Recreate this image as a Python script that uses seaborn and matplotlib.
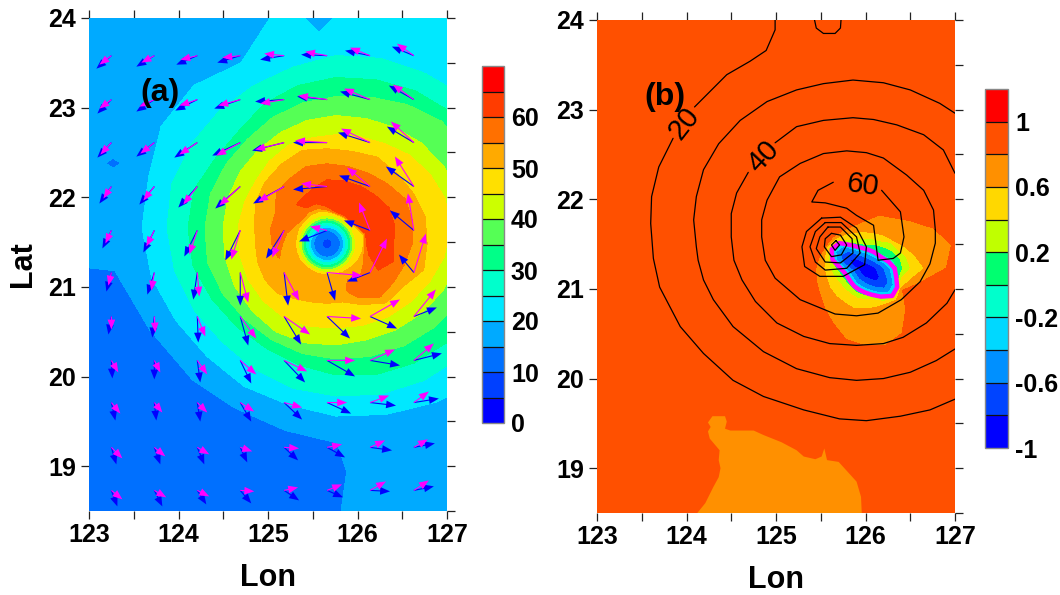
import numpy as np
import matplotlib
matplotlib.use('Agg')
import matplotlib.pyplot as plt
from matplotlib.cm import ScalarMappable
from matplotlib.colors import BoundaryNorm, ListedColormap
from matplotlib.ticker import MultipleLocator
import seaborn as sns

# colour bars
levels_a = np.arange(0, 75, 5)
colors_a = ['#0000ff', '#0040ff', '#0070ff', '#00aaff', '#00e8ff', '#00ffcc', '#00ff88',
            '#55ff55', '#ccff00', '#ffe000', '#ffaa00', '#ff7000', '#ff3c00', '#ff0000']
ticks_a = [0, 10, 20, 30, 40, 50, 60]
levels_b = np.round(np.arange(-1, 1.3, 0.2), 1)
colors_b = ['#0000ff', '#0044ff', '#0090ff', '#00d8ff', '#00ffcc', '#00ff70',
            '#c0ff00', '#ffd800', '#ff9000', '#ff5000', '#ff0000']
ticks_b = [-1, -0.6, -0.2, 0.2, 0.6, 1]
tick_names_b = ['-1', '-0.6', '-0.2', '0.2', '0.6', '1']

bearings = np.arange(0, 375, 15)

# (a) isotach radius per bearing, 1/89.5 deg, around 125.76E 21.66N
outer_center = (125.76, 21.66)
r45 = [114, 113, 108, 103, 97, 94, 93, 93, 95, 94, 93, 95, 98, 100, 102, 103, 104, 102, 100, 101, 103, 105, 108, 112]
r40 = [128, 127, 124, 120, 116, 113, 112, 111, 110, 110, 111, 112, 113, 115, 117, 118, 120, 119, 117, 116, 118, 121, 124, 127]
r35 = [150, 150, 150, 150, 142, 135, 131, 129, 127, 125, 127, 130, 131, 133, 131, 129, 129, 130, 131, 133, 136, 140, 145, 150]
r30 = [165, 165, 165, 163, 158, 153, 150, 147, 143, 137, 139, 147, 148, 148, 143, 140, 139, 142, 147, 152, 156, 160, 163, 165]
r25 = [190, 190, 188, 184, 178, 175, 172, 166, 164, 165, 167, 170, 169, 167, 164, 161, 163, 166, 168, 172, 176, 180, 184, 188]
r20 = [240, 240, 240, 245, 245, 245, 245, 228, 190, 201, 202, 194, 194, 191, 185, 182, 183, 183, 188, 193, 201, 212, 225, 235]
# 15 m/s line, same columns
lon15 = [130.72, 130.50, 129.83, 128.93, 128.04, 126.92, 125.76, 124.58, 123.35, 122.23, 121.89, 121.67,
         121.67, 123.29, 123.68, 124.16, 124.63, 125.19, 125.77, 125.88, 125.77, 127.59, 128.93, 130.05]
lat15 = [21.66, 22.86, 23.98, 24.87, 25.54, 26.10, 26.21, 26.10, 25.87, 25.20, 23.87, 22.53,
         21.36, 21.18, 20.52, 19.96, 19.65, 19.40, 19.26, 18.94, 18.18, 16.39, 17.28, 19.52]

# (a) eyewall, 1/268.5 deg around 125.66E 21.48N
eye_center = (125.66, 21.48)
eye_values = [7, 10, 15, 20, 25, 30, 35, 40, 45]
eye_radii = [0, 15, 40, 50, 57, 65, 72, 78, 86]
r50_in = [110, 112, 100, 95, 93, 93, 97, 100, 100, 97, 97, 95, 95, 95, 95, 93, 93, 93, 93, 95, 97, 100, 105, 108]
r55_in = [112, 115, 103, 98, 96, 96, 102, 110, 110, 105, 110, 125, 130, 135, 120, 120, 120, 120, 120, 125, 125, 140, 125, 115]
r60_in = [118, 120, 105, 100, 100, 100, 112, 125, 125, 130, 135, 140, 140, 145, 140, 140, 140, 140, 140, 140, 140, 160, 135, 130]
r_peak = [160, 165, 160, 150, 150, 148, 150, 150, 140, 160, 150, 150, 150, 150, 155, 155, 155, 155, 150, 150, 150, 180, 175, 165]
r60_out = [200, 210, 215, 205, 200, 195, 192, 170, 155, 180, 165, 160, 160, 155, 170, 170, 165, 165, 160, 160, 165, 200, 205, 205]
r55_out = [255, 265, 270, 255, 245, 240, 240, 240, 225, 215, 180, 175, 170, 165, 190, 190, 175, 170, 165, 165, 185, 225, 230, 240]
r50_out = [300, 305, 300, 297, 300, 287, 285, 290, 275, 262, 248, 225, 215, 215, 215, 210, 190, 180, 178, 180, 210, 250, 260, 300]
peak_wind = [63, 63, 63, 63, 63, 63, 63, 62, 61, 59, 57.5, 56, 55.5, 55.2, 53, 53, 53, 53, 53, 54, 56, 58, 59.5, 62]
# (lon, lat) of the two small low spots in (a): centre, half width, half height, low, high
spots = [(123.27, 22.38, 0.17, 0.11, 14, 16), (125.57, 24.0, 0.31, 0.33, 19, 21)]

# (a) arrows
arrow_lon = [123.25, 123.73, 124.21, 124.69, 125.18, 125.66, 126.14, 126.63]
arrow_lat = [23.58, 23.09, 22.61, 22.12, 21.63, 21.16, 20.67, 20.18, 19.71, 19.21, 18.73]
blue_u = [[-15, -18, -21, -23, -24, -26, -25, -22],
          [-14, -18, -22, -26, -29, -30, -30, -25],
          [-14, -18, -23, -28, -32, -34, -32, -27],
          [-12, -15, -19, -25, -31, -34, -31, -28],
          [-9, -11, -13, -15, -18, -28, -26, -24],
          [-5, -7, -4, 0, 4, 8, -23, -15],
          [-3, -2, 1, 8, 17, 23, 27, 23],
          [1, 0, 3, 11, 21, 28, 30, 28],
          [4, 2, 3, 11, 18, 24, 26, 25],
          [5, 6, 7, 7, 14, 18, 22, 21],
          [6, 8, 9, 11, 15, 16, 20, 20]]
blue_v = [[-13, -11, -9, -7, -4, 1, 5, 9],
          [-14, -12, -11, -9, -2, 3, 8, 14],
          [-15, -14, -15, -13, -8, 0, 10, 16],
          [-17, -18, -21, -22, -17, -3, 11, 20],
          [-18, -22, -26, -30, -28, -11, 10, 20],
          [-19, -22, -27, -33, -33, -28, -9, 18],
          [-18, -21, -26, -29, -28, -22, -12, 9],
          [-18, -19, -22, -23, -22, -16, -5, 7],
          [-18, -18, -19, -19, -17, -11, -3, 4],
          [-17, -17, -17, -15, -13, -10, -3, 4],
          [-16, -16, -14, -13, -10, -7, -1, 4]]
pink_u = [[-12, -13, -17, -18, -20, -22, -20, -17],
          [-12, -15, -18, -22, -24, -29, -26, -21],
          [-11, -14, -18, -24, -29, -32, -29, -23],
          [-8, -11, -14, -21, -26, -26, -23, -19],
          [-6, -8, -8, -9, -12, -17, -11, -6],
          [-3, -3, 2, 8, 15, 35, 17, 12],
          [0, 1, 8, 16, 26, 34, 30, 22],
          [7, 6, 10, 16, 23, 28, 25, 20],
          [9, 8, 10, 14, 18, 20, 19, 15],
          [11, 11, 12, 12, 15, 15, 15, 14],
          [11, 12, 12, 14, 14, 15, 16, 15]]
pink_v = [[-9, -7, -4, -2, 2, 4, 8, 12],
          [-9, -7, -6, -6, -4, 4, 11, 15],
          [-12, -11, -12, -13, -7, 2, 14, 21],
          [-12, -14, -18, -19, -15, 3, 19, 30],
          [-13, -16, -24, -29, -27, 4, 28, 37],
          [-13, -18, -24, -30, -28, -3, 34, 39],
          [-13, -16, -20, -22, -18, -2, 17, 27],
          [-12, -12, -14, -14, -11, 0, 11, 17],
          [-11, -10, -10, -9, -5, 0, 7, 11],
          [-11, -9, -7, -4, -1, 3, 7, 8],
          [-9, -7, -6, -1, 3, 6, 9, 10]]

# (b) anomaly field, radius per bearing, 1/268.5 deg around 125.99E 21.23N
blob_center = (125.99, 21.23)
blob_values = [-0.9, -0.8, -0.6, -0.4, -0.2, 0, 0.2, 0.4, 0.6, 0.8, 0.9]
rb_m08 = [34, 26, 20, 18, 17, 17, 18, 21, 28, 42, 50, 38, 24, 18, 17, 18, 20, 22, 26, 30, 40, 52, 52, 40]
rb_m06 = [58, 46, 37, 33, 32, 32, 34, 39, 50, 72, 82, 68, 44, 34, 32, 33, 36, 39, 44, 52, 66, 84, 82, 66]
rb_m04 = [76, 62, 50, 46, 44, 44, 47, 53, 67, 92, 100, 86, 60, 48, 45, 46, 50, 54, 60, 69, 84, 102, 99, 84]
rb_m02 = [90, 75, 62, 57, 56, 56, 59, 65, 80, 107, 114, 100, 72, 60, 57, 58, 62, 66, 72, 82, 98, 117, 113, 98]
rb_p00 = [98, 90, 75, 65, 62, 60, 63, 69, 84, 109, 116, 102, 76, 64, 61, 62, 66, 70, 76, 85, 101, 119, 115, 101]
rb_p02 = [115, 110, 100, 88, 80, 75, 72, 78, 90, 112, 118, 105, 88, 75, 70, 70, 73, 78, 82, 90, 106, 122, 117, 107]
rb_p04 = [138, 130, 115, 110, 95, 92, 90, 92, 100, 117, 122, 112, 105, 95, 88, 86, 88, 92, 94, 98, 115, 125, 120, 115]
rb_p06 = [180, 155, 135, 120, 115, 110, 110, 112, 118, 125, 130, 125, 122, 118, 120, 120, 120, 125, 122, 122, 125, 135, 125, 140]
rb_p08 = [245, 270, 240, 200, 175, 165, 142, 132, 131, 134, 135, 140, 147, 150, 155, 170, 190, 220, 232, 240, 225, 175, 132, 171]

south_lon = [124.08, 124.21, 124.30, 124.36, 124.38, 124.36, 124.37, 124.26, 124.24, 124.27, 124.24, 124.29, 124.43, 124.45, 124.43,
             124.49, 124.75, 124.86, 125.06, 125.23, 125.31, 125.44, 125.51, 125.54, 125.57, 125.70, 125.90, 125.95, 125.96]
south_lat = [18.45, 18.61, 18.79, 18.90, 19.00, 19.09, 19.20, 19.33, 19.41, 19.46, 19.51, 19.58, 19.58, 19.52, 19.44,
             19.42, 19.42, 19.37, 19.29, 19.20, 19.13, 19.10, 19.13, 19.22, 19.09, 19.07, 18.85, 18.68, 18.45]

# (b) wind speed contours
line20a_lon = [124.99, 124.99, 124.89, 124.71, 124.45, 124.09]
line20a_lat = [24.05, 23.89, 23.66, 23.54, 23.39, 23.03]
line20b_lon = [123.85, 123.69, 123.61, 123.60, 123.63, 123.70, 123.93, 124.19, 124.52, 124.86, 125.31, 125.71, 126.01, 126.39, 126.72, 127.0]
line20b_lat = [22.68, 22.36, 22.03, 21.73, 21.34, 21.02, 20.58, 20.28, 19.98, 19.80, 19.65, 19.55, 19.53, 19.58, 19.65, 19.77]
line20c_lon = [125.42, 125.45, 125.53, 125.66, 125.72, 125.73]
line20c_lat = [24.05, 23.91, 23.85, 23.85, 23.91, 24.05]
line30_lon = [127.0, 126.83, 126.50, 126.20, 125.86, 125.53, 125.23, 124.90, 124.60, 124.36, 124.19, 124.11, 124.08, 124.11, 124.13,
              124.19, 124.30, 124.52, 124.86, 125.23, 125.60, 125.90, 126.20, 126.50, 126.79, 127.0]
line30_lat = [22.96, 23.07, 23.22, 23.30, 23.33, 23.29, 23.22, 23.09, 22.88, 22.62, 22.33, 22.03, 21.77, 21.47, 21.32,
              21.10, 20.88, 20.58, 20.30, 20.11, 20.01, 19.98, 20.00, 20.07, 20.20, 20.33]
line40a_lon = [127.0, 126.87, 126.65, 126.35, 126.09, 125.86, 125.53, 125.23, 124.99]
line40a_lat = [22.29, 22.55, 22.72, 22.83, 22.89, 22.91, 22.88, 22.81, 22.63]
line40b_lon = [124.69, 124.56, 124.50, 124.50, 124.53, 124.62, 124.77, 125.01, 125.31, 125.60, 125.90, 126.20, 126.42, 126.68, 126.91, 127.0]
line40b_lat = [22.30, 22.07, 21.84, 21.58, 21.32, 21.10, 20.86, 20.62, 20.47, 20.39, 20.37, 20.39, 20.46, 20.62, 20.84, 20.99]
line50_lon = [126.78, 126.76, 126.65, 126.46, 126.20, 126.01, 125.79, 125.53, 125.27, 125.04, 124.90, 124.84, 124.84, 124.88,
              124.99, 125.27, 125.66, 125.90, 126.14, 126.40, 126.61, 126.72, 126.78, 126.78]
line50_lat = [21.66, 21.88, 22.10, 22.27, 22.46, 22.52, 22.54, 22.51, 22.40, 22.25, 21.99, 21.77, 21.58, 21.32,
              21.12, 20.88, 20.72, 20.70, 20.73, 20.88, 21.08, 21.28, 21.51, 21.66]
line60_lon = [125.64, 125.47, 125.40, 125.55, 125.79, 125.90, 126.09, 126.14, 126.31, 126.39, 126.43, 126.39, 126.18]
line60_lat = [22.19, 22.10, 21.97, 21.96, 21.90, 21.82, 21.71, 21.32, 21.34, 21.40, 21.58, 21.86, 22.10]
eye1_lon = [125.51, 125.72, 125.90, 126.01, 125.99, 125.75, 125.49, 125.32, 125.29, 125.34, 125.51]
eye1_lat = [21.79, 21.80, 21.68, 21.47, 21.27, 21.14, 21.14, 21.25, 21.47, 21.64, 21.79]
eye2_lon = [125.55, 125.73, 125.90, 125.94, 125.79, 125.55, 125.44, 125.38, 125.44, 125.55]
eye2_lat = [21.74, 21.74, 21.58, 21.40, 21.23, 21.21, 21.30, 21.47, 21.64, 21.74]
eye3_lon = [125.58, 125.72, 125.85, 125.86, 125.72, 125.55, 125.45, 125.49, 125.58]
eye3_lat = [21.69, 21.69, 21.56, 21.40, 21.29, 21.30, 21.45, 21.58, 21.69]
eye4_lon = [125.62, 125.72, 125.79, 125.73, 125.62, 125.54, 125.55, 125.62]
eye4_lat = [21.62, 21.60, 21.49, 21.38, 21.36, 21.47, 21.56, 21.62]
eye5_lon = [125.67, 125.71, 125.66, 125.62, 125.67]
eye5_lat = [21.54, 21.49, 21.43, 21.49, 21.54]


def close(a):
    a = np.asarray(a, dtype=float)
    return np.concatenate([a, a[..., :1]], axis=-1)


def ring_mesh(center, radii):
    rad = np.deg2rad(bearings)
    r = close(radii)
    return center[0] + r * np.cos(rad), center[1] + r * np.sin(rad)


sns.set_theme(style='ticks')
plt.rcParams['font.family'] = ['Liberation Sans', 'DejaVu Sans']
plt.rcParams['font.weight'] = 'bold'

cmap_a = ListedColormap(sns.color_palette(colors_a))
cmap_b = ListedColormap(sns.color_palette(colors_b))
norm_a = BoundaryNorm(levels_a, cmap_a.N)
norm_b = BoundaryNorm(levels_b, cmap_b.N)

W, H = 1060, 595
fig = plt.figure(figsize=(W / 100, H / 100), dpi=100)
ax1 = fig.add_axes([89 / W, 1 - 511 / H, 358 / W, 493 / H])
ax2 = fig.add_axes([597 / W, 1 - 513 / H, 358 / W, 493 / H])

# panel a, outer isotachs
n = len(r45)
outer_rows = [np.zeros(n), r45, r40, r35, r30, r25, r20]
outer_x, outer_y = ring_mesh(outer_center, np.array(outer_rows, dtype=float) / 89.5)
x_far, y_far = ring_mesh(outer_center, np.full((1, n), 9.0))
X = np.vstack([outer_x, close(lon15), x_far])
Y = np.vstack([outer_y, close(lat15), y_far])
outer_z = [47, 45, 40, 35, 30, 25, 20, 15, 14]
Z = np.repeat(np.array(outer_z, dtype=float)[:, None], n + 1, axis=1)
ax1.contourf(X, Y, Z, levels=levels_a, cmap=cmap_a, norm=norm_a, zorder=1)

for lon0, lat0, dx, dy, low, high in spots:
    spot_z = np.full((3, 3), float(high))
    spot_z[1, 1] = low
    ax1.contourf([lon0 - dx, lon0, lon0 + dx], [lat0 - dy, lat0, lat0 + dy], spot_z,
                 levels=levels_a, cmap=cmap_a, norm=norm_a, zorder=1)

# panel a, eye and eyewall
peak = np.array(peak_wind)
inner_rows = [np.full(n, float(r)) for r in eye_radii] + [r50_in, r55_in, r60_in, r_peak, r60_out, r55_out, r50_out]
inner_z = [np.full(n, float(v)) for v in eye_values] + [
    np.full(n, 50.0), np.minimum(55, peak - 0.6), np.minimum(60, peak - 0.3), peak,
    np.minimum(60, peak - 0.3), np.minimum(55, peak - 0.6), np.full(n, 50.0)]
Xi, Yi = ring_mesh(eye_center, np.array(inner_rows, dtype=float) / 268.5)
ax1.contourf(Xi, Yi, close(np.array(inner_z)), levels=levels_a, cmap=cmap_a, norm=norm_a, zorder=1.1)

lon_grid, lat_grid = np.meshgrid(arrow_lon, arrow_lat)
arrow_style = dict(angles='xy', scale_units='xy', scale=89.5, units='dots', width=1.1,
                   headwidth=7, headlength=9, headaxislength=9, minshaft=0.5, minlength=0)
ax1.quiver(lon_grid, lat_grid, blue_u, blue_v, color='#0000ff', zorder=3, **arrow_style)
ax1.quiver(lon_grid, lat_grid, pink_u, pink_v, color='#ff00ff', zorder=3.1, **arrow_style)
ax1.text(123.79, 23.16, '(a)', fontsize=23, ha='center', va='center', color='black', zorder=4)

# panel b, anomaly field
blob_rows = [np.zeros(n), rb_m08, rb_m06, rb_m04, rb_m02, rb_p00, rb_p02, rb_p04, rb_p06, rb_p08]
bx, by = ring_mesh(blob_center, np.array(blob_rows, dtype=float) / 268.5)
bx_far, by_far = ring_mesh(blob_center, np.full((1, n), 9.0))
Xb = np.vstack([bx, bx_far])
Yb = np.vstack([by, by_far])
Zb = np.repeat(np.array(blob_values)[:, None], n + 1, axis=1)
ax2.contourf(Xb, Yb, Zb, levels=levels_b, cmap=cmap_b, norm=norm_b, zorder=1)
ax2.fill(south_lon, south_lat, color=colors_b[8], lw=0, zorder=1)
mx, my = ring_mesh(blob_center, np.array(rb_m02, dtype=float) / 268.5)
ax2.plot(mx, my, color='#ff00ff', lw=3.2, zorder=2)

wind_lines = [(line20a_lon, line20a_lat), (line20b_lon, line20b_lat), (line20c_lon, line20c_lat),
              (line30_lon, line30_lat), (line40a_lon, line40a_lat), (line40b_lon, line40b_lat),
              (line50_lon, line50_lat), (line60_lon, line60_lat), (eye1_lon, eye1_lat),
              (eye2_lon, eye2_lat), (eye3_lon, eye3_lat), (eye4_lon, eye4_lat), (eye5_lon, eye5_lat)]
for line_lon, line_lat in wind_lines:
    ax2.plot(line_lon, line_lat, color='black', lw=0.9, zorder=3)
ax2.text(123.97, 22.85, '20', fontsize=21, fontweight='normal', rotation=52, ha='center', va='center', color='black', zorder=4)
ax2.text(124.86, 22.47, '40', fontsize=21, fontweight='normal', rotation=47, ha='center', va='center', color='black', zorder=4)
ax2.text(125.97, 22.15, '60', fontsize=21, fontweight='normal', rotation=-8, ha='center', va='center', color='black', zorder=4)
ax2.text(123.76, 23.14, '(b)', fontsize=23, ha='center', va='center', color='black', zorder=4)

for ax in (ax1, ax2):
    ax.set_xlim(123, 127)
    ax.set_ylim(18.5, 24)
    ax.set_xticks([123, 124, 125, 126, 127])
    ax.set_yticks([19, 20, 21, 22, 23, 24])
    ax.xaxis.set_minor_locator(MultipleLocator(0.5))
    ax.yaxis.set_minor_locator(MultipleLocator(0.5))
    ax.tick_params(axis='both', which='both', direction='out', length=5.5, width=0.9, color='#222222',
                   labelsize=18, labelcolor='black')
    ax.tick_params(axis='x', which='both', top=True, bottom=True, pad=3)
    ax.tick_params(axis='y', which='major', left=True, right=True, pad=4)
    ax.tick_params(axis='y', which='minor', left=False, right=True)
    ax.set_xlabel('Lon', fontsize=22, fontweight='bold', labelpad=12, color='black')
    for side in ax.spines.values():
        side.set_visible(False)
ax1.set_ylabel('Lat', fontsize=22, fontweight='bold', labelpad=7, color='black')

# colour bars
cax1 = fig.add_axes([482 / W, 1 - 423 / H, 22 / W, 357 / H])
cb1 = fig.colorbar(ScalarMappable(norm_a, cmap_a), cax=cax1, ticks=ticks_a, drawedges=True, spacing='proportional')
cb1.set_ticklabels([str(t) for t in ticks_a])
cax2 = fig.add_axes([985 / W, 1 - 448 / H, 23 / W, 359 / H])
cb2 = fig.colorbar(ScalarMappable(norm_b, cmap_b), cax=cax2, ticks=ticks_b, drawedges=True, spacing='proportional')
cb2.set_ticklabels(tick_names_b)
for cb in (cb1, cb2):
    cb.ax.tick_params(length=0, labelsize=18, labelcolor='black', pad=5)
    cb.ax.minorticks_off()
    cb.outline.set_edgecolor('#888888')
    cb.outline.set_linewidth(1)
    cb.dividers.set_color('#111111')
    cb.dividers.set_linewidth(0.9)

fig.savefig('out.png', dpi=100)
